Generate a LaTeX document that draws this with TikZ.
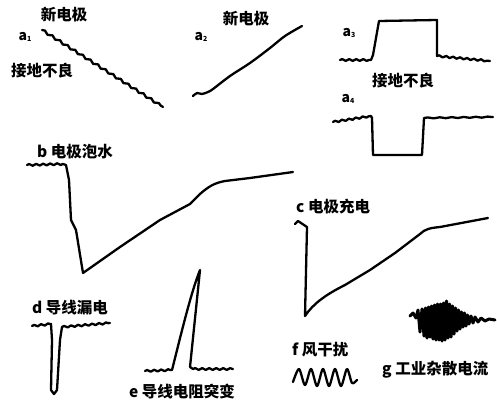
\documentclass[tikz,border=0pt]{standalone}
\usepackage{fontspec}
\newfontfamily\cjk{Noto Sans CJK SC}
\usetikzlibrary{decorations.pathmorphing}
\tikzset{
  sig/.style={line width=2.3pt, line join=round, line cap=round},
  wob/.style={decoration={snake, amplitude=0.9pt, segment length=7pt}},
  lbl/.style={inner sep=0pt, font=\cjk\bfseries\fontsize{15.5}{16}\selectfont},
  sub/.style={inner sep=0pt, font=\cjk\bfseries\fontsize{14}{14}\selectfont}
}
\newcommand{\subnum}[1]{{\fontsize{7}{7}\selectfont\raisebox{-1.5pt}{#1}}}
\begin{document}
\begin{tikzpicture}[x=1pt,y=-1pt]
\useasboundingbox (0,0) rectangle (497,404);
% a1
\node[lbl] (a1top) at (64,15) {新电极};
\node[sub] (a1lab) at (25,37) {a\subnum{1}};
\node[lbl] (a1bot) at (42,71) {接地不良};
\draw[sig] (42,30) decorate[decoration={snake, amplitude=1.1pt, segment length=9pt}]{ -- (163,107)};
% a2
\node[lbl] (a2top) at (246,19) {新电极};
\node[sub] (a2lab) at (201,37) {a\subnum{2}};
\draw[sig] plot[smooth] coordinates {(193,96) (197,93) (202,94) (208,92) (213,89) (230,76) (250,63) (270,48) (285,36) (302,26)};
% a3
\node[sub] (a3lab) at (349,33) {a\subnum{3}};
\draw[sig] (340,60) decorate[wob]{ -- (371,60)} -- (373,55) -- (379,21) -- (437,20) -- (437,56) decorate[wob]{ -- (490,61)};
\node[lbl] (a34mid) at (403,81) {接地不良};
% a4
\node[sub] (a4lab) at (348,99) {a\subnum{4}};
\draw[sig] (333,122) decorate[wob]{ -- (371,116)} -- (372,118) -- (373,155) -- (422,155) -- (424,118) decorate[decoration={snake, amplitude=0.5pt, segment length=12pt}]{ -- (493,117)};
% b
\node[lbl, anchor=west] (blab) at (37,152) {b 电极泡水};
\draw[sig] (27,165) decorate[wob]{ -- (63,164)} -- (66,165) -- (69,180) -- (71,220) -- (76,230) -- (83,273) -- (120,247) -- (160,220) -- (190,204) -- (200,194) .. controls (208,187) and (214,183) .. (225,181) -- (250,178) -- (293,172);
% c
\node[lbl, anchor=west] (clab) at (296,207) {c 电极充电};
\draw[sig] (295,224) -- (298,221) -- (307,227) -- (305,316) .. controls (313,304) and (325,295) .. (345,285) -- (370,270) -- (395,253) -- (420,234) .. controls (425,229) and (430,228) .. (440,227) -- (488,218);
% d
\node[lbl, anchor=west] (dlab) at (32,308) {d 导线漏电};
\draw[sig] (32,326) decorate[wob]{ -- (51,324)} -- (52,340) -- (51,390) -- (54,394) -- (57,390) -- (60,340) -- (62,327) decorate[wob]{ -- (110,323)};
% e
\node[lbl, anchor=west] (elab) at (129,392) {e 导线电阻突变};
\draw[sig] (145,371) decorate[wob]{ -- (172,370)} .. controls (184,322) and (192,290) .. (200,270) -- (190,367) -- (193,369) decorate[wob]{ -- (233,369)};
% f
\node[lbl, anchor=west] (flab) at (292,350) {f 风干扰};
\draw[sig] plot[smooth] coordinates {(293,382) (299,369) (305,385) (311,369) (317,386) (323,369) (329,386) (335,369) (341,386) (347,369) (352,383) (357,380)};
% g
\node[lbl, anchor=west] (glab) at (382,370) {g 工业杂散电流};
\draw[line width=3pt, line join=round, line cap=round] (410,316) -- (413,313) -- (416,318) -- (418,310) -- (420,332) -- (422,309) -- (424,336) -- (425.5,308) -- (427,338) -- (428.5,307) -- (430,337) -- (431.5,306) -- (433,339) -- (434.5,305) -- (436,340) -- (437.5,304) -- (439,340) -- (440.5,304) -- (442,341) -- (443.5,303) -- (445,340) -- (446.5,301) -- (448,338) -- (449.5,304) -- (451,337) -- (452.5,306) -- (454,334) -- (455.5,308) -- (457,331) -- (458.5,310) -- (460,329) -- (461.5,312) -- (463,327) -- (464.5,313) -- (466,326) -- (467.5,315) -- (469,324) -- (471,316) -- (473,323) -- (475,317) -- (478,322) -- (481,318) -- (485,321) -- (489,319) -- (495,320);
\end{tikzpicture}
\end{document}
